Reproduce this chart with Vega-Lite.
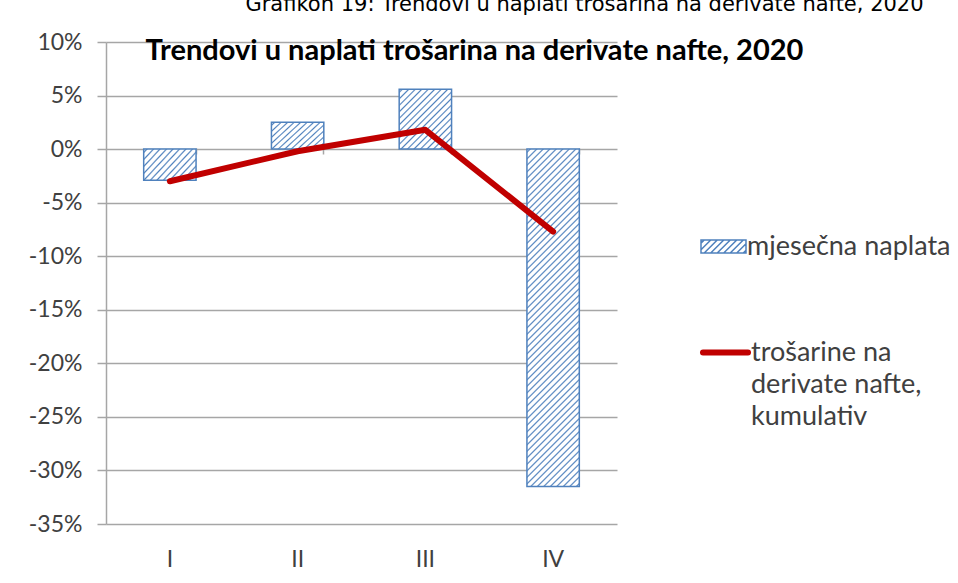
{
  "$schema": "https://vega.github.io/schema/vega-lite/v6.json",
  "width": 511,
  "height": 482,
  "autosize": {"type": "none"},
  "padding": {"left": 106, "top": 42, "right": 341, "bottom": 59},
  "background": "white",
  "config": {"view": {"stroke": null}},
  "title": {
    "text": "Grafikon 19: Trendovi u naplati trošarina na derivate nafte, 2020",
    "frame": "group",
    "anchor": "middle",
    "dx": 223,
    "dy": 18,
    "offset": 17,
    "baseline": "alphabetic",
    "font": "DejaVu Sans",
    "fontSize": 21,
    "fontWeight": "normal",
    "color": "#000000"
  },
  "data": {
    "values": [
      {"m": "I", "mjesecna": -2.9, "kumulativ": -3.0},
      {"m": "II", "mjesecna": 2.5, "kumulativ": -0.2},
      {"m": "III", "mjesecna": 5.6, "kumulativ": 1.8},
      {"m": "IV", "mjesecna": -31.5, "kumulativ": -7.7}
    ]
  },
  "layer": [
    {
      "mark": {"type": "bar", "stroke": "#4f81bd", "strokeWidth": 1.5},
      "encoding": {
        "x": {
          "field": "m", "type": "nominal", "sort": null,
          "scale": {"paddingInner": 0.59, "paddingOuter": 0.295},
          "axis": {
            "orient": "bottom", "title": null, "labelAngle": 0, "ticks": false,
            "domain": false, "grid": false, "labelPadding": 24,
            "labelFont": "Lato", "labelFontSize": 23, "labelColor": "#404040"
          }
        },
        "y": {
          "field": "mjesecna", "type": "quantitative",
          "scale": {"domain": [-35, 10], "nice": false, "zero": false},
          "axis": {
            "title": null,
            "values": [-35, -30, -25, -20, -15, -10, -5, 0, 5, 10],
            "labelExpr": "datum.value + '%'",
            "grid": true, "gridColor": "#a6a6a6", "gridWidth": 1.5,
            "domainColor": "#a6a6a6", "domainWidth": 1.5,
            "tickColor": "#a6a6a6", "tickSize": 9, "tickWidth": 1.5,
            "labelPadding": 15, "labelFont": "Lato", "labelFontSize": 23,
            "labelColor": "#404040"
          }
        },
        "fill": {
          "datum": "mjesečna naplata",
          "scale": {"range": ["#ffffff"]},
          "condition": [
            {"test": "datum.m === 'IV'", "value": {"gradient": "linear", "x1": 0, "y1": 0, "x2": 0.1752, "y2": 1.1281, "stops": [
              {"offset": 0.0042, "color": "#ffffff"}, {"offset": 0.0083, "color": "#4f81bd"}, {"offset": 0.0124, "color": "#ffffff"},
              {"offset": 0.0209, "color": "#ffffff"}, {"offset": 0.0250, "color": "#4f81bd"}, {"offset": 0.0291, "color": "#ffffff"},
              {"offset": 0.0376, "color": "#ffffff"}, {"offset": 0.0417, "color": "#4f81bd"}, {"offset": 0.0458, "color": "#ffffff"},
              {"offset": 0.0543, "color": "#ffffff"}, {"offset": 0.0584, "color": "#4f81bd"}, {"offset": 0.0625, "color": "#ffffff"},
              {"offset": 0.0709, "color": "#ffffff"}, {"offset": 0.0750, "color": "#4f81bd"}, {"offset": 0.0791, "color": "#ffffff"},
              {"offset": 0.0876, "color": "#ffffff"}, {"offset": 0.0917, "color": "#4f81bd"}, {"offset": 0.0958, "color": "#ffffff"},
              {"offset": 0.1043, "color": "#ffffff"}, {"offset": 0.1084, "color": "#4f81bd"}, {"offset": 0.1125, "color": "#ffffff"},
              {"offset": 0.1210, "color": "#ffffff"}, {"offset": 0.1251, "color": "#4f81bd"}, {"offset": 0.1292, "color": "#ffffff"},
              {"offset": 0.1376, "color": "#ffffff"}, {"offset": 0.1417, "color": "#4f81bd"}, {"offset": 0.1458, "color": "#ffffff"},
              {"offset": 0.1543, "color": "#ffffff"}, {"offset": 0.1584, "color": "#4f81bd"}, {"offset": 0.1625, "color": "#ffffff"},
              {"offset": 0.1710, "color": "#ffffff"}, {"offset": 0.1751, "color": "#4f81bd"}, {"offset": 0.1792, "color": "#ffffff"},
              {"offset": 0.1877, "color": "#ffffff"}, {"offset": 0.1918, "color": "#4f81bd"}, {"offset": 0.1959, "color": "#ffffff"},
              {"offset": 0.2043, "color": "#ffffff"}, {"offset": 0.2084, "color": "#4f81bd"}, {"offset": 0.2125, "color": "#ffffff"},
              {"offset": 0.2210, "color": "#ffffff"}, {"offset": 0.2251, "color": "#4f81bd"}, {"offset": 0.2292, "color": "#ffffff"},
              {"offset": 0.2377, "color": "#ffffff"}, {"offset": 0.2418, "color": "#4f81bd"}, {"offset": 0.2459, "color": "#ffffff"},
              {"offset": 0.2544, "color": "#ffffff"}, {"offset": 0.2585, "color": "#4f81bd"}, {"offset": 0.2626, "color": "#ffffff"},
              {"offset": 0.2710, "color": "#ffffff"}, {"offset": 0.2751, "color": "#4f81bd"}, {"offset": 0.2792, "color": "#ffffff"},
              {"offset": 0.2877, "color": "#ffffff"}, {"offset": 0.2918, "color": "#4f81bd"}, {"offset": 0.2959, "color": "#ffffff"},
              {"offset": 0.3044, "color": "#ffffff"}, {"offset": 0.3085, "color": "#4f81bd"}, {"offset": 0.3126, "color": "#ffffff"},
              {"offset": 0.3211, "color": "#ffffff"}, {"offset": 0.3252, "color": "#4f81bd"}, {"offset": 0.3293, "color": "#ffffff"},
              {"offset": 0.3377, "color": "#ffffff"}, {"offset": 0.3418, "color": "#4f81bd"}, {"offset": 0.3459, "color": "#ffffff"},
              {"offset": 0.3544, "color": "#ffffff"}, {"offset": 0.3585, "color": "#4f81bd"}, {"offset": 0.3626, "color": "#ffffff"},
              {"offset": 0.3711, "color": "#ffffff"}, {"offset": 0.3752, "color": "#4f81bd"}, {"offset": 0.3793, "color": "#ffffff"},
              {"offset": 0.3878, "color": "#ffffff"}, {"offset": 0.3919, "color": "#4f81bd"}, {"offset": 0.3960, "color": "#ffffff"},
              {"offset": 0.4044, "color": "#ffffff"}, {"offset": 0.4085, "color": "#4f81bd"}, {"offset": 0.4126, "color": "#ffffff"},
              {"offset": 0.4211, "color": "#ffffff"}, {"offset": 0.4252, "color": "#4f81bd"}, {"offset": 0.4293, "color": "#ffffff"},
              {"offset": 0.4378, "color": "#ffffff"}, {"offset": 0.4419, "color": "#4f81bd"}, {"offset": 0.4460, "color": "#ffffff"},
              {"offset": 0.4545, "color": "#ffffff"}, {"offset": 0.4586, "color": "#4f81bd"}, {"offset": 0.4627, "color": "#ffffff"},
              {"offset": 0.4711, "color": "#ffffff"}, {"offset": 0.4752, "color": "#4f81bd"}, {"offset": 0.4793, "color": "#ffffff"},
              {"offset": 0.4878, "color": "#ffffff"}, {"offset": 0.4919, "color": "#4f81bd"}, {"offset": 0.4960, "color": "#ffffff"},
              {"offset": 0.5045, "color": "#ffffff"}, {"offset": 0.5086, "color": "#4f81bd"}, {"offset": 0.5127, "color": "#ffffff"},
              {"offset": 0.5212, "color": "#ffffff"}, {"offset": 0.5253, "color": "#4f81bd"}, {"offset": 0.5294, "color": "#ffffff"},
              {"offset": 0.5378, "color": "#ffffff"}, {"offset": 0.5419, "color": "#4f81bd"}, {"offset": 0.5460, "color": "#ffffff"},
              {"offset": 0.5545, "color": "#ffffff"}, {"offset": 0.5586, "color": "#4f81bd"}, {"offset": 0.5627, "color": "#ffffff"},
              {"offset": 0.5712, "color": "#ffffff"}, {"offset": 0.5753, "color": "#4f81bd"}, {"offset": 0.5794, "color": "#ffffff"},
              {"offset": 0.5879, "color": "#ffffff"}, {"offset": 0.5920, "color": "#4f81bd"}, {"offset": 0.5961, "color": "#ffffff"},
              {"offset": 0.6045, "color": "#ffffff"}, {"offset": 0.6086, "color": "#4f81bd"}, {"offset": 0.6127, "color": "#ffffff"},
              {"offset": 0.6212, "color": "#ffffff"}, {"offset": 0.6253, "color": "#4f81bd"}, {"offset": 0.6294, "color": "#ffffff"},
              {"offset": 0.6379, "color": "#ffffff"}, {"offset": 0.6420, "color": "#4f81bd"}, {"offset": 0.6461, "color": "#ffffff"},
              {"offset": 0.6546, "color": "#ffffff"}, {"offset": 0.6587, "color": "#4f81bd"}, {"offset": 0.6628, "color": "#ffffff"},
              {"offset": 0.6712, "color": "#ffffff"}, {"offset": 0.6753, "color": "#4f81bd"}, {"offset": 0.6794, "color": "#ffffff"},
              {"offset": 0.6879, "color": "#ffffff"}, {"offset": 0.6920, "color": "#4f81bd"}, {"offset": 0.6961, "color": "#ffffff"},
              {"offset": 0.7046, "color": "#ffffff"}, {"offset": 0.7087, "color": "#4f81bd"}, {"offset": 0.7128, "color": "#ffffff"},
              {"offset": 0.7213, "color": "#ffffff"}, {"offset": 0.7254, "color": "#4f81bd"}, {"offset": 0.7295, "color": "#ffffff"},
              {"offset": 0.7379, "color": "#ffffff"}, {"offset": 0.7420, "color": "#4f81bd"}, {"offset": 0.7461, "color": "#ffffff"},
              {"offset": 0.7546, "color": "#ffffff"}, {"offset": 0.7587, "color": "#4f81bd"}, {"offset": 0.7628, "color": "#ffffff"},
              {"offset": 0.7713, "color": "#ffffff"}, {"offset": 0.7754, "color": "#4f81bd"}, {"offset": 0.7795, "color": "#ffffff"},
              {"offset": 0.7880, "color": "#ffffff"}, {"offset": 0.7921, "color": "#4f81bd"}, {"offset": 0.7962, "color": "#ffffff"},
              {"offset": 0.8046, "color": "#ffffff"}, {"offset": 0.8087, "color": "#4f81bd"}, {"offset": 0.8128, "color": "#ffffff"},
              {"offset": 0.8213, "color": "#ffffff"}, {"offset": 0.8254, "color": "#4f81bd"}, {"offset": 0.8295, "color": "#ffffff"},
              {"offset": 0.8380, "color": "#ffffff"}, {"offset": 0.8421, "color": "#4f81bd"}, {"offset": 0.8462, "color": "#ffffff"},
              {"offset": 0.8547, "color": "#ffffff"}, {"offset": 0.8588, "color": "#4f81bd"}, {"offset": 0.8629, "color": "#ffffff"},
              {"offset": 0.8713, "color": "#ffffff"}, {"offset": 0.8754, "color": "#4f81bd"}, {"offset": 0.8795, "color": "#ffffff"},
              {"offset": 0.8880, "color": "#ffffff"}, {"offset": 0.8921, "color": "#4f81bd"}, {"offset": 0.8962, "color": "#ffffff"},
              {"offset": 0.9047, "color": "#ffffff"}, {"offset": 0.9088, "color": "#4f81bd"}, {"offset": 0.9129, "color": "#ffffff"},
              {"offset": 0.9214, "color": "#ffffff"}, {"offset": 0.9255, "color": "#4f81bd"}, {"offset": 0.9296, "color": "#ffffff"},
              {"offset": 0.9380, "color": "#ffffff"}, {"offset": 0.9421, "color": "#4f81bd"}, {"offset": 0.9462, "color": "#ffffff"},
              {"offset": 0.9547, "color": "#ffffff"}, {"offset": 0.9588, "color": "#4f81bd"}, {"offset": 0.9629, "color": "#ffffff"},
              {"offset": 0.9714, "color": "#ffffff"}, {"offset": 0.9755, "color": "#4f81bd"}, {"offset": 0.9796, "color": "#ffffff"},
              {"offset": 0.9881, "color": "#ffffff"}, {"offset": 0.9922, "color": "#4f81bd"}, {"offset": 0.9963, "color": "#ffffff"}
            ]}},
            {"test": "datum.m === 'III'", "value": {"gradient": "linear", "x1": 0, "y1": 0, "x2": 0.92814, "y2": 1.06275, "stops": [
              {"offset": 0.0147, "color": "#ffffff"}, {"offset": 0.0289, "color": "#4f81bd"}, {"offset": 0.0431, "color": "#ffffff"},
              {"offset": 0.0725, "color": "#ffffff"}, {"offset": 0.0867, "color": "#4f81bd"}, {"offset": 0.1010, "color": "#ffffff"},
              {"offset": 0.1303, "color": "#ffffff"}, {"offset": 0.1446, "color": "#4f81bd"}, {"offset": 0.1588, "color": "#ffffff"},
              {"offset": 0.1882, "color": "#ffffff"}, {"offset": 0.2024, "color": "#4f81bd"}, {"offset": 0.2166, "color": "#ffffff"},
              {"offset": 0.2460, "color": "#ffffff"}, {"offset": 0.2602, "color": "#4f81bd"}, {"offset": 0.2745, "color": "#ffffff"},
              {"offset": 0.3038, "color": "#ffffff"}, {"offset": 0.3181, "color": "#4f81bd"}, {"offset": 0.3323, "color": "#ffffff"},
              {"offset": 0.3617, "color": "#ffffff"}, {"offset": 0.3759, "color": "#4f81bd"}, {"offset": 0.3901, "color": "#ffffff"},
              {"offset": 0.4195, "color": "#ffffff"}, {"offset": 0.4337, "color": "#4f81bd"}, {"offset": 0.4480, "color": "#ffffff"},
              {"offset": 0.4773, "color": "#ffffff"}, {"offset": 0.4915, "color": "#4f81bd"}, {"offset": 0.5058, "color": "#ffffff"},
              {"offset": 0.5351, "color": "#ffffff"}, {"offset": 0.5494, "color": "#4f81bd"}, {"offset": 0.5636, "color": "#ffffff"},
              {"offset": 0.5930, "color": "#ffffff"}, {"offset": 0.6072, "color": "#4f81bd"}, {"offset": 0.6214, "color": "#ffffff"},
              {"offset": 0.6508, "color": "#ffffff"}, {"offset": 0.6650, "color": "#4f81bd"}, {"offset": 0.6793, "color": "#ffffff"},
              {"offset": 0.7086, "color": "#ffffff"}, {"offset": 0.7229, "color": "#4f81bd"}, {"offset": 0.7371, "color": "#ffffff"},
              {"offset": 0.7665, "color": "#ffffff"}, {"offset": 0.7807, "color": "#4f81bd"}, {"offset": 0.7949, "color": "#ffffff"},
              {"offset": 0.8243, "color": "#ffffff"}, {"offset": 0.8385, "color": "#4f81bd"}, {"offset": 0.8528, "color": "#ffffff"},
              {"offset": 0.8821, "color": "#ffffff"}, {"offset": 0.8964, "color": "#4f81bd"}, {"offset": 0.9106, "color": "#ffffff"},
              {"offset": 0.9399, "color": "#ffffff"}, {"offset": 0.9542, "color": "#4f81bd"}, {"offset": 0.9684, "color": "#ffffff"}
            ]}},
            {"test": "datum.m === 'I' || datum.m === 'II'", "value": {"gradient": "linear", "x1": 0, "y1": 0, "x2": 1.18919, "y2": 0.65814, "stops": [
              {"offset": 0.0203, "color": "#ffffff"}, {"offset": 0.0399, "color": "#4f81bd"}, {"offset": 0.0596, "color": "#ffffff"},
              {"offset": 0.1001, "color": "#ffffff"}, {"offset": 0.1198, "color": "#4f81bd"}, {"offset": 0.1394, "color": "#ffffff"},
              {"offset": 0.1800, "color": "#ffffff"}, {"offset": 0.1996, "color": "#4f81bd"}, {"offset": 0.2193, "color": "#ffffff"},
              {"offset": 0.2598, "color": "#ffffff"}, {"offset": 0.2795, "color": "#4f81bd"}, {"offset": 0.2991, "color": "#ffffff"},
              {"offset": 0.3397, "color": "#ffffff"}, {"offset": 0.3593, "color": "#4f81bd"}, {"offset": 0.3790, "color": "#ffffff"},
              {"offset": 0.4195, "color": "#ffffff"}, {"offset": 0.4392, "color": "#4f81bd"}, {"offset": 0.4588, "color": "#ffffff"},
              {"offset": 0.4994, "color": "#ffffff"}, {"offset": 0.5190, "color": "#4f81bd"}, {"offset": 0.5387, "color": "#ffffff"},
              {"offset": 0.5792, "color": "#ffffff"}, {"offset": 0.5989, "color": "#4f81bd"}, {"offset": 0.6186, "color": "#ffffff"},
              {"offset": 0.6591, "color": "#ffffff"}, {"offset": 0.6788, "color": "#4f81bd"}, {"offset": 0.6984, "color": "#ffffff"},
              {"offset": 0.7389, "color": "#ffffff"}, {"offset": 0.7586, "color": "#4f81bd"}, {"offset": 0.7783, "color": "#ffffff"},
              {"offset": 0.8188, "color": "#ffffff"}, {"offset": 0.8385, "color": "#4f81bd"}, {"offset": 0.8581, "color": "#ffffff"},
              {"offset": 0.8987, "color": "#ffffff"}, {"offset": 0.9183, "color": "#4f81bd"}, {"offset": 0.9380, "color": "#ffffff"}
            ]}}
          ],
          "legend": {
            "orient": "none", "legendX": 594, "legendY": 181, "title": null,
            "padding": 0,
            "symbolType": "M-1,-0.29H1V0.29H-1Z M-1,-0.1455L-0.8555,-0.29 M-1,0.1435L-0.5665,-0.29 M-0.8575,0.29L-0.2775,-0.29 M-0.5685,0.29L0.0115,-0.29 M-0.2795,0.29L0.3005,-0.29 M0.0095,0.29L0.5895,-0.29 M0.2985,0.29L0.8785,-0.29 M0.5875,0.29L1,-0.1225 M0.8765,0.29L1,0.1665",
            "symbolSize": 2025,
            "labelFont": "Lato", "labelFontSize": 27, "labelColor": "#404040",
            "labelOffset": 0, "labelLimit": 400,
            "encode": {
              "symbols": {
                "stroke": {"value": "#4f81bd"},
                "strokeWidth": {"value": 1.5}
              }
            }
          }
        }
      }
    },
    {
      "mark": {"type": "line", "strokeWidth": 6, "strokeCap": "round", "strokeJoin": "round"},
      "encoding": {
        "x": {
          "field": "m", "type": "nominal", "sort": null,
          "axis": {
            "orient": "bottom", "offset": -376,
            "title": "Trendovi u naplati trošarina na derivate nafte, 2020",
            "titleFont": "Lato", "titleFontSize": 29, "titleFontWeight": "bold",
            "titleColor": "#000000", "titleX": 368, "titleY": -98,
            "titleAlign": "center", "titleBaseline": "middle",
            "labels": false, "domain": false, "grid": false,
            "ticks": true, "tickSize": 6, "tickColor": "#a6a6a6", "tickWidth": 1.5,
            "bandPosition": 1
          }
        },
        "y": {"field": "kumulativ", "type": "quantitative", "title": null},
        "stroke": {
          "datum": "trošarine na derivate nafte, kumulativ",
          "scale": {"range": ["#c00000"]},
          "legend": {
            "orient": "none", "legendX": 594, "legendY": 285, "title": null,
            "padding": 0,
            "symbolType": "stroke", "symbolSize": 2025, "symbolStrokeWidth": 6,
            "labelExpr": "['trošarine na', 'derivate nafte,', 'kumulativ']",
            "labelFont": "Lato", "labelFontSize": 27, "labelColor": "#404040",
            "labelOffset": 0, "labelLimit": 400,
            "encode": {
              "labels": {"update": {"lineHeight": {"value": 32}}},
              "symbols": {"update": {"strokeCap": {"value": "round"}}}
            }
          }
        }
      }
    }
  ],
  "resolve": {"axis": {"x": "independent"}}
}
